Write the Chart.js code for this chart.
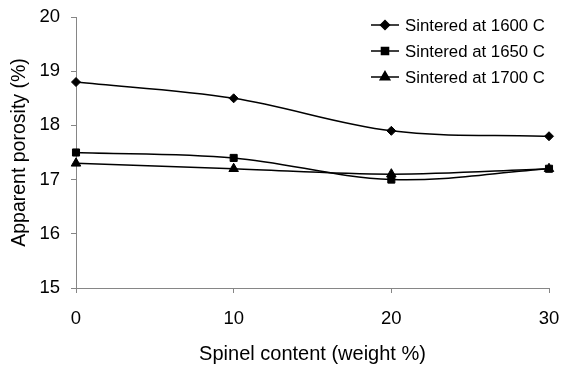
<!DOCTYPE html>
<html>
<head>
<meta charset="utf-8">
<script src="https://cdn.jsdelivr.net/npm/chart.js@4"></script>
<style>
  html, body { margin: 0; padding: 0; background: #fff; }
  #wrap { width: 561px; height: 367px; }
</style>
</head>
<body>
<div id="wrap"><canvas id="c" width="561" height="367"></canvas></div>
<script>
// Spinel content (weight %)
const spinel = [0, 10, 20, 30];
// Apparent porosity (%) per sintering temperature
const porosity1600 = [18.8, 18.5, 17.9, 17.8];
const porosity1650 = [17.5, 17.4, 17.0, 17.2];
const porosity1700 = [17.3, 17.2, 17.1, 17.2];
const seriesLabels = ['Sintered at 1600 C', 'Sintered at 1650 C', 'Sintered at 1700 C'];
const yTicks = [15, 16, 17, 18, 19, 20];
const xTicks = [0, 10, 20, 30];

const FONT = '"Liberation Sans", Arial, sans-serif';
const AXIS_GREY = '#868686';

function pts(vals) { return spinel.map((x, i) => ({ x: x, y: vals[i] })); }

const markers = [
  { style: 'rectRot', radius: 4.5 },
  { style: 'rect', radius: 5 },
  { style: 'triangle', radius: 5.5 }
];

// Keep the plot area fixed: no extra room reserved for edge tick labels
function noEdgePadding(scale) {
  scale.paddingLeft = 0;
  scale.paddingRight = 0;
  scale.paddingTop = 0;
  scale.paddingBottom = 0;
}

// Legend drawn as line + marker, stacked at top right
const lineLegend = {
  id: 'lineLegend',
  afterDraw(chart) {
    const ctx = chart.ctx;
    ctx.save();
    chart.data.datasets.forEach((ds, i) => {
      const y = 25 + i * 26;
      ctx.strokeStyle = '#000';
      ctx.lineWidth = 1.5;
      ctx.beginPath();
      ctx.moveTo(371, y);
      ctx.lineTo(399, y);
      ctx.stroke();
      ctx.fillStyle = '#000';
      Chart.helpers.drawPoint(ctx, {
        pointStyle: ds.pointStyle, radius: ds.pointRadius, rotation: 0, borderWidth: 1
      }, 385, y);
      ctx.fillStyle = '#000';
      ctx.font = '16.8px ' + FONT;
      ctx.textBaseline = 'middle';
      ctx.textAlign = 'left';
      ctx.fillText(ds.label, 405, y + 1);
    });
    ctx.restore();
  }
};

const datasets = [porosity1600, porosity1650, porosity1700].map((vals, i) => ({
  label: seriesLabels[i],
  data: pts(vals),
  borderColor: '#000',
  backgroundColor: '#000',
  borderWidth: 1.5,
  pointStyle: markers[i].style,
  pointRadius: markers[i].radius,
  pointHoverRadius: markers[i].radius,
  pointBorderWidth: 1,
  tension: 0.35,
  clip: false
}));

new Chart(document.getElementById('c'), {
  type: 'line',
  data: { datasets: datasets },
  options: {
    responsive: false,
    animation: false,
    devicePixelRatio: 1,
    layout: { padding: { left: 0, right: 12, top: 17, bottom: 0 } },
    plugins: { legend: { display: false }, tooltip: { enabled: false } },
    scales: {
      x: {
        type: 'linear',
        min: 0, max: 30,
        afterBuildTicks(scale) { scale.ticks = xTicks.map(v => ({ value: v })); },
        afterFit(scale) { scale.height = 79; noEdgePadding(scale); },
        grid: { drawOnChartArea: false, color: AXIS_GREY, tickLength: 5 },
        border: { color: AXIS_GREY, width: 1 },
        ticks: { color: '#000', font: { family: FONT, size: 18.5 }, padding: 15, maxRotation: 0 },
        title: { display: true, text: 'Spinel content (weight %)', color: '#000',
                 font: { family: FONT, size: 20 }, padding: { top: 8, bottom: 1 } }
      },
      y: {
        min: 15, max: 20,
        afterBuildTicks(scale) { scale.ticks = yTicks.map(v => ({ value: v })); },
        afterFit(scale) { scale.width = 76; noEdgePadding(scale); },
        grid: { drawOnChartArea: false, color: AXIS_GREY, tickLength: 5 },
        border: { color: AXIS_GREY, width: 1 },
        ticks: { color: '#000', font: { family: FONT, size: 18.5 }, padding: 11 },
        title: { display: true, text: 'Apparent porosity (%)', color: '#000',
                 font: { family: FONT, size: 19.5 }, padding: { top: 8, bottom: 4 } }
      }
    }
  },
  plugins: [lineLegend]
});
</script>
</body>
</html>
